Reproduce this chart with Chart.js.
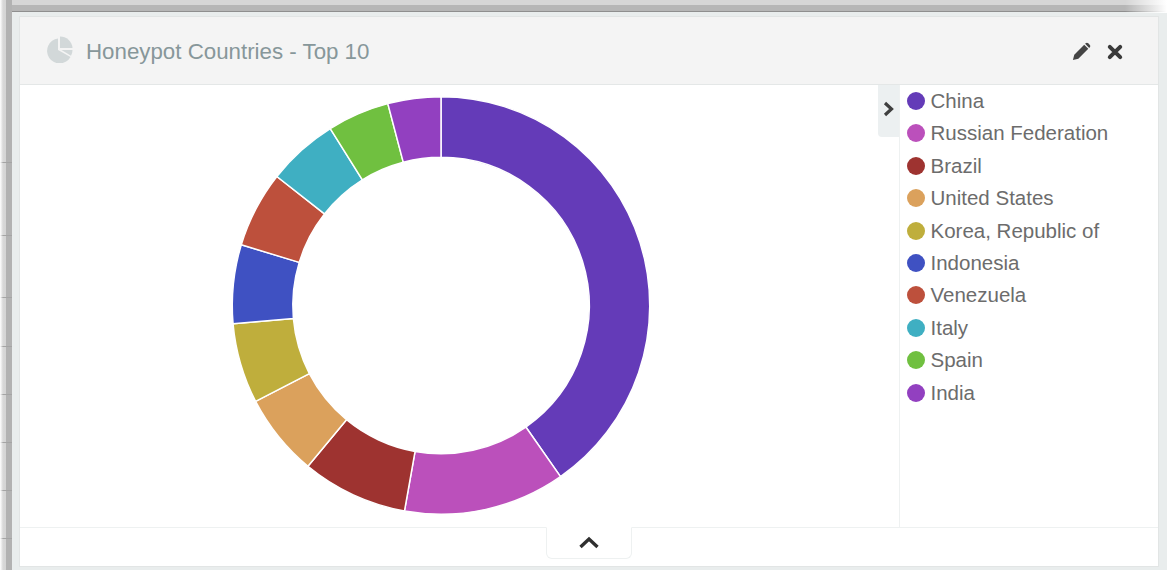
<!DOCTYPE html>
<html>
<head>
<meta charset="utf-8">
<title>Honeypot Countries - Top 10</title>
<script src="https://cdn.jsdelivr.net/npm/chart.js@4"></script>
<style>
  html, body { margin: 0; padding: 0; background: #fff; }
  body { width: 1167px; height: 570px; overflow: hidden; position: relative; font-family: "Liberation Sans", Arial, sans-serif; }
  .abs { position: absolute; }
  /* page behind the panel, seen along the top and left */
  #stripTop { left: 0; top: 0; width: 1167px; height: 12px; background: linear-gradient(to bottom, #d6d6d6 0, #d6d6d6 5px, #b6b6b6 5px, #b6b6b6 11px, #8f8f8f 11px, #8f8f8f 12px); }
  #fadeTop { left: 1125px; top: 0; width: 42px; height: 13px; background: linear-gradient(to right, rgba(255,255,255,0), #fff); }
  #stripLeft { left: 0; top: 0; width: 12px; height: 570px; background: linear-gradient(to right, #dcdcdc 0, #d4d4d4 6px, #b2b2b2 6px, #b2b2b2 12px); }
  #fadeLeft { left: 0; top: 0; width: 3px; height: 570px; background: linear-gradient(to right, #fff, rgba(255,255,255,0)); }
  .rule { left: 0; width: 12px; height: 1px; background: #a4a4a4; }
  #frame { left: 12px; top: 12px; width: 1155px; height: 558px; background: #e9eded; }
  #panel { left: 19px; top: 16px; width: 1138px; height: 549px; background: #fff; border: 1px solid #e2e5e5; }
  #header { left: 20px; top: 17px; width: 1138px; height: 67px; background: #f4f4f4; border-bottom: 1px solid #e4e7e7; }
  #title { left: 86px; top: 38px; font-size: 22.3px; line-height: 28px; color: #87979a; white-space: nowrap; }
  #chartBox { left: 20px; top: 85px; }
  #sideLine { left: 899px; top: 85px; width: 1px; height: 442px; background: #eef1f1; }
  #sideTab { left: 878px; top: 85px; width: 21px; height: 52px; background: #ecf0f1; border-bottom-left-radius: 4px; }
  #footLine { left: 20px; top: 527px; width: 1138px; height: 1px; background: #eef1f1; }
  #footTab { left: 546px; top: 527px; width: 84px; height: 30px; background: #fff; border: 1px solid #eef1f1; border-top: 1px solid #fff; border-radius: 0 0 6px 6px; }
  #legend { left: 907px; top: 85px; margin: 0; padding: 0; list-style: none; }
  #legend li { height: 32.4px; line-height: 32.4px; font-size: 20.5px; color: #6c6c6c; white-space: nowrap; position: relative; padding-left: 23.5px; }
  #legend i { position: absolute; left: 0; top: 7px; width: 18px; height: 18px; border-radius: 50%; }
</style>
</head>
<body>
<div class="abs" id="stripTop"></div>
<div class="abs" id="stripLeft"></div>
<div class="abs rule" style="top:162px"></div>
<div class="abs rule" style="top:235px"></div>
<div class="abs rule" style="top:297px"></div>
<div class="abs rule" style="top:346px"></div>
<div class="abs rule" style="top:394px"></div>
<div class="abs rule" style="top:442px"></div>
<div class="abs rule" style="top:490px"></div>
<div class="abs rule" style="top:538px"></div>
<div class="abs" id="fadeLeft"></div>
<div class="abs" id="frame"></div>
<div class="abs" id="fadeTop"></div>
<div class="abs" id="panel"></div>
<div class="abs" id="header"></div>

<!-- pie icon -->
<svg class="abs" style="left:46px;top:35px" width="28" height="28" viewBox="0 0 28 28">
  <path d="M12 3.5 A12.5 12.5 0 1 0 24.5 22 L12 15 Z" fill="#d2d8d9"/>
  <path d="M14 1.5 A12.5 12.5 0 0 1 26.5 13 L14 13 Z" fill="#d2d8d9"/>
  <path d="M15.5 15 L26.5 15 A12.5 12.5 0 0 1 25 20.8 Z" fill="#d2d8d9"/>
</svg>
<div class="abs" id="title">Honeypot Countries - Top 10</div>

<!-- pencil -->
<svg class="abs" style="left:1072px;top:42px" width="19" height="19" viewBox="0 0 21 21">
  <path d="M1 20 L2.5 14 L13.5 3 L18 7.5 L7 18.5 Z M15 1.5 C16 .5 17 .5 18 1.5 L19.5 3 C20.5 4 20.5 5 19.5 6 L19 6.5 L14.5 2 Z" fill="#444"/>
</svg>
<!-- close -->
<svg class="abs" style="left:1106px;top:43px" width="18" height="18" viewBox="0 0 18 18">
  <path d="M3.8 3.8 L14.2 14.2 M14.2 3.8 L3.8 14.2" stroke="#3a3a3a" stroke-width="4" stroke-linecap="round"/>
</svg>

<div class="abs" id="chartBox"><canvas id="donut" width="842" height="441"></canvas></div>

<div class="abs" id="sideLine"></div>
<div class="abs" id="sideTab"></div>
<svg class="abs" style="left:882px;top:100px" width="13" height="18" viewBox="0 0 13 18">
  <path d="M3 3 L9.5 9 L3 15" fill="none" stroke="#3f3f3f" stroke-width="3.2"/>
</svg>
<ul class="abs" id="legend"></ul>

<div class="abs" id="footLine"></div>
<div class="abs" id="footTab"></div>
<svg class="abs" style="left:578px;top:535px" width="22" height="15" viewBox="0 0 22 15">
  <path d="M2.5 12 L11 4 L19.5 12" fill="none" stroke="#2f2f2f" stroke-width="3.4"/>
</svg>

<script>
const countries = ['China', 'Russian Federation', 'Brazil', 'United States', 'Korea, Republic of',
  'Indonesia', 'Venezuela', 'Italy', 'Spain', 'India'];
const shares = [40.3, 12.5, 8.2, 6.4, 6.2, 6.1, 5.9, 5.5, 4.8, 4.1];
const colors = ['#643bb8', '#bb50bb', '#9e3330', '#dba15c', '#bfae3c',
  '#3f51c2', '#bd503c', '#3fafc2', '#70c040', '#9240c0'];

new Chart(document.getElementById('donut').getContext('2d'), {
  type: 'doughnut',
  data: {
    labels: countries,
    datasets: [{
      data: shares,
      backgroundColor: colors,
      borderColor: '#fff',
      borderWidth: 1.5
    }]
  },
  options: {
    responsive: false,
    animation: false,
    cutout: '71%',
    layout: { padding: 11 },
    plugins: { legend: { display: false }, tooltip: { enabled: true } }
  }
});

// side legend, same order and colours as the slices
const legend = document.getElementById('legend');
countries.forEach((name, i) => {
  const li = document.createElement('li');
  const dot = document.createElement('i');
  dot.style.background = colors[i];
  li.appendChild(dot);
  li.appendChild(document.createTextNode(name));
  legend.appendChild(li);
});
</script>
</body>
</html>
